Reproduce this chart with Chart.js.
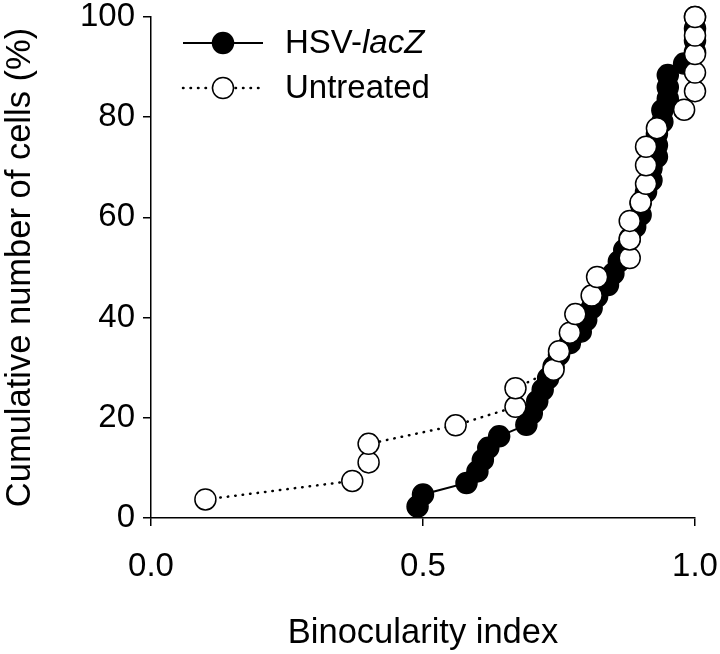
<!DOCTYPE html>
<html>
<head>
<meta charset="utf-8">
<script src="https://cdn.jsdelivr.net/npm/chart.js@4/dist/chart.umd.min.js"></script>
<style>
html,body{margin:0;padding:0;background:#fff;}
#wrap{width:720px;height:654px;}
</style>
</head>
<body>
<div id="wrap"><canvas id="c" width="720" height="654"></canvas></div>
<script>
// Data
const lacZX = [0.49,0.50,0.58,0.60,0.61,0.62,0.64,0.69,0.70,0.71,0.72,0.73,0.74,0.75,0.77,0.79,0.80,0.81,0.82,0.84,0.85,0.86,0.87,0.88,0.89,0.90,0.90,0.91,0.92,0.92,0.93,0.93,0.93,0.94,0.94,0.95,0.95,0.95,0.98,1.0,1.0,1.0,1.0];
const lacZY = [2.3,4.7,7.0,9.3,11.6,14.0,16.3,18.6,20.9,23.3,25.6,27.9,30.2,32.6,34.9,37.2,39.5,41.9,44.2,46.5,48.8,51.2,53.5,55.8,58.1,60.5,62.8,65.1,67.4,69.8,72.1,74.4,76.7,79.1,81.4,83.7,86.0,88.4,90.7,93.0,95.3,97.7,100];
const untreatedX = [0.10,0.37,0.40,0.40,0.56,0.67,0.67,0.74,0.75,0.77,0.78,0.81,0.82,0.88,0.88,0.88,0.90,0.91,0.91,0.91,0.93,0.98,1.0,1.0,1.0,1.0,1.0];
const untreatedY = [3.7,7.4,11.1,14.8,18.5,22.2,25.9,29.6,33.3,37.0,40.7,44.4,48.1,51.9,55.6,59.3,63.0,66.7,70.4,74.1,77.8,81.5,85.2,88.9,92.6,96.3,100];
const xTicks = [0.0, 0.5, 1.0];
const yTicks = [0, 20, 40, 60, 80, 100];
const seriesNames = ["HSV-", "lacZ", "Untreated"];
const xTitle = "Binocularity index";
const yTitle = "Cumulative number of cells (%)";

const FONT = "'Liberation Sans', Arial, sans-serif";
const FS = 33;
const FT = 34.5;
const R = 10.5;

const toPts = (xs, ys) => xs.map((x, i) => ({x: x, y: ys[i]}));

const legendPlugin = {
  id: 'customLegend',
  afterDraw(chart) {
    const ctx = chart.ctx;
    const a = chart.chartArea;
    const x0 = a.left + 32, x1 = a.left + 112, xm = a.left + 72;
    const tx = a.left + 134;
    const y1 = a.top + 26, y2 = a.top + 71;
    ctx.save();
    ctx.strokeStyle = '#000';
    ctx.lineWidth = 2;
    ctx.setLineDash([]);
    ctx.beginPath(); ctx.moveTo(x0, y1); ctx.lineTo(x1, y1); ctx.stroke();
    ctx.beginPath(); ctx.arc(xm, y1, R, 0, Math.PI * 2);
    ctx.fillStyle = '#000'; ctx.fill(); ctx.lineWidth = 1.5; ctx.stroke();
    ctx.lineWidth = 2.5;
    ctx.lineCap = 'round';
    ctx.setLineDash([0.5, 7]);
    ctx.beginPath(); ctx.moveTo(x0, y2); ctx.lineTo(x1, y2); ctx.stroke();
    ctx.setLineDash([]);
    ctx.lineCap = 'butt';
    ctx.beginPath(); ctx.arc(xm, y2, R, 0, Math.PI * 2);
    ctx.fillStyle = '#fff'; ctx.fill(); ctx.lineWidth = 1.5; ctx.strokeStyle = '#000'; ctx.stroke();
    ctx.fillStyle = '#000';
    ctx.textBaseline = 'middle';
    ctx.textAlign = 'left';
    ctx.font = FS + 'px ' + FONT;
    ctx.fillText(seriesNames[0], tx, y1 + 1);
    const w = ctx.measureText(seriesNames[0]).width;
    ctx.font = 'italic ' + FS + 'px ' + FONT;
    ctx.fillText(seriesNames[1], tx + w, y1 + 1);
    ctx.font = FS + 'px ' + FONT;
    ctx.fillText(seriesNames[2], tx, y2 + 1);
    ctx.restore();
  }
};

new Chart(document.getElementById('c'), {
  type: 'scatter',
  data: {
    datasets: [
      {
        label: 'Untreated',
        data: toPts(untreatedX, untreatedY),
        showLine: true,
        borderColor: '#000',
        borderWidth: 2.5,
        borderDash: [0.5, 7],
        borderCapStyle: 'round',
        pointRadius: R,
        pointBackgroundColor: '#fff',
        pointBorderColor: '#000',
        pointBorderWidth: 1.5,
        clip: false,
        order: 0
      },
      {
        label: 'HSV-lacZ',
        data: toPts(lacZX, lacZY),
        showLine: true,
        borderColor: '#000',
        borderWidth: 2,
        pointRadius: R,
        pointBackgroundColor: '#000',
        pointBorderColor: '#000',
        pointBorderWidth: 1.5,
        clip: false,
        order: 1
      }
    ]
  },
  options: {
    responsive: false,
    animation: false,
    devicePixelRatio: 1,
    layout: { autoPadding: false, padding: { top: 17, right: 25, left: 0, bottom: 0 } },
    plugins: { legend: { display: false }, tooltip: { enabled: false } },
    scales: {
      x: {
        type: 'linear',
        min: 0, max: 1,
        afterBuildTicks: (s) => { s.ticks = xTicks.map(v => ({value: v})); },
        afterFit: (s) => { s.height = 136; s.paddingLeft = 0; s.paddingRight = 0; },
        grid: { drawOnChartArea: false, drawTicks: true, tickLength: 8, color: '#000', lineWidth: 1.5 },
        border: { display: true, color: '#000', width: 1.5 },
        ticks: { color: '#000', font: { family: FONT, size: FS }, padding: 21, maxRotation: 0,
                 callback: (v) => Number(v).toFixed(1) },
        title: { display: true, text: xTitle, color: '#000', font: { family: FONT, size: FT }, padding: { top: 0, bottom: 0 } }
      },
      y: {
        type: 'linear',
        min: 0, max: 100,
        afterBuildTicks: (s) => { s.ticks = yTicks.map(v => ({value: v})); },
        afterFit: (s) => { s.width = 151; s.paddingTop = 0; s.paddingBottom = 0; },
        grid: { drawOnChartArea: false, drawTicks: true, tickLength: 8, color: '#000', lineWidth: 1.5 },
        border: { display: true, color: '#000', width: 1.5 },
        ticks: { color: '#000', font: { family: FONT, size: FS }, padding: 8 },
        title: { display: true, text: yTitle, color: '#000', font: { family: FONT, size: FT }, padding: { top: 0, bottom: 0 } }
      }
    }
  },
  plugins: [legendPlugin]
});
</script>
</body>
</html>
